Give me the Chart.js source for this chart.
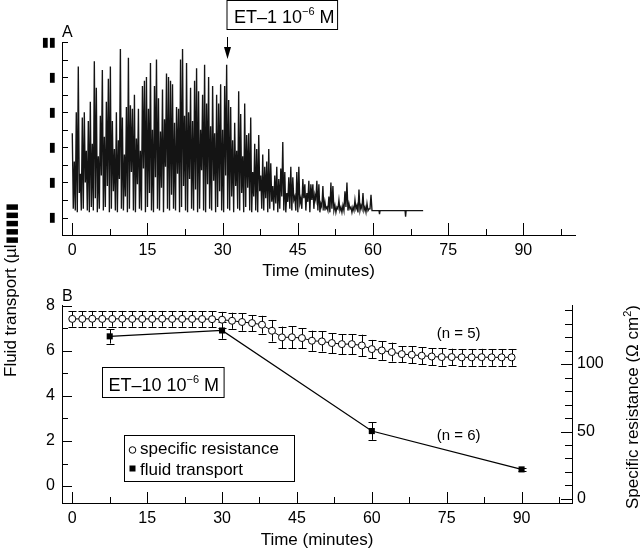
<!DOCTYPE html>
<html><head><meta charset="utf-8">
<script src="https://cdn.jsdelivr.net/npm/chart.js@4.4.1/dist/chart.umd.min.js"></script>
<style>
html,body{margin:0;padding:0;background:#fff;}
#wrap{position:relative;width:640px;height:550px;overflow:hidden;background:#fff;}
#ca{position:absolute;left:0;top:0;}
#cb{position:absolute;left:0;top:280px;}
#ytitle{position:absolute;left:2px;top:377px;transform-origin:0 0;transform:rotate(-90deg);font-size:17px;font-family:"Liberation Sans","DejaVu Sans",Arial,sans-serif;line-height:17px;white-space:nowrap;color:#000;}
#ytitle span{font-size:15px;}
</style></head><body>
<div id="wrap">
<canvas id="ca" width="640" height="280"></canvas>
<canvas id="cb" width="640" height="270"></canvas>
<div id="ytitle">Fluid transport (µl<span>▮▮▮▮▮</span></div>
</div>
<script>
// ---------------- Panel A data (fluid transport trace) ----------------
const spikeStep = 0.4; // minutes between successive spikes
const spikePeaks = [
  4.8, 3.2, 6.0, 8.6, 2.5, 5.7, 6.0, 3.8, 5.5, 6.6,
  4.2, 8.9, 7.4, 3.5, 5.8, 8.4, 4.6, 6.6, 7.9, 8.6,
  5.5, 3.9, 6.0, 4.4, 9.6, 5.7, 3.6, 6.3, 9.1, 6.4,
  6.2, 7.0, 4.5, 6.2, 3.8, 7.5, 7.8, 8.0, 6.2, 8.8,
  5.0, 7.5, 9.0, 6.8, 4.9, 7.3, 5.6, 8.2, 8.0, 7.8,
  7.6, 5.4, 6.3, 6.2, 9.0, 9.6, 5.8, 8.8, 6.0, 7.4,
  5.5, 7.8, 8.5, 7.2, 5.0, 7.0, 8.7, 6.5, 8.0, 5.2,
  7.5, 4.8, 7.0, 6.5, 7.6, 5.0, 7.5, 8.7, 6.7, 6.3,
  4.4, 5.4, 3.8, 7.2, 5.9, 3.5, 6.5, 4.7, 4.8, 5.7,
  2.6, 4.2, 3.9, 4.7, 2.4, 3.6, 2.9, 3.2, 3.9, 3.1,
  1.8, 2.4, 2.9, 2.2, 2.8, 4.3, 2.6, 1.4, 2.3, 2.9,
  2.3, 1.2, 2.6, 2.9, 1.1, 2.2, 1.9, 1.4, 2.1, 1.9,
  1.9, 1.3, 2.1, 1.9, 0.8, 1.8, 0.9, 0.6, 1.2, 2.0,
  1.8, 0.7, 0.6, 1.0, 0.6, 0.7, 1.5, 2.0, 0.8, 0.6,
  0.6, 1.0, 0.7, 1.6, 0.7, 1.4, 0.6, 0.8, 0.5, 1.3
];
const spikeTroughs = [
  0.5, 0.4, 0.3, 1.4, 0.4, 0.5, 2.0, 0.4, 0.3, 0.6,
  0.4, 1.1, 0.3, 0.5, 2.4, 0.4, 0.6, 1.8, 0.3, 0.5,
  1.5, 0.4, 0.3, 2.2, 0.5, 0.4, 1.2, 0.3, 0.5, 2.6,
  0.4, 0.3, 1.9, 0.5, 0.4, 2.8, 0.3, 0.6, 1.4, 0.4,
  0.3, 2.3, 0.5, 0.4, 1.7, 0.3, 2.9, 0.5, 0.4, 1.3,
  0.5, 0.4, 2.5, 0.3, 0.6, 1.8, 0.4, 0.3, 2.2, 0.5,
  0.4, 1.6, 0.3, 0.5, 2.7, 0.4, 0.3, 1.9, 0.5, 0.4,
  2.1, 0.3, 0.6, 1.5, 0.4, 0.3, 2.4, 0.5, 0.4, 1.2,
  0.3, 1.8, 0.5, 0.4, 1.4, 0.3, 0.6, 1.7, 0.4, 0.3,
  1.2, 0.4, 0.3, 1.5, 0.5, 0.4, 1.1, 0.3, 0.5, 0.9,
  0.4, 0.8, 0.3, 0.5, 1.2, 0.4, 0.3, 0.9, 0.5, 0.4,
  1.0, 0.4, 0.3, 0.8, 0.5, 1.1, 0.4, 0.9, 0.3, 1.0,
  0.5, 1.0, 0.4, 0.3, 0.6, 0.4, 0.5, 0.4, 0.3, 0.5,
  0.4, 0.3, 0.5, 0.4, 0.3, 0.4, 0.6, 0.4, 0.5, 0.3,
  0.4, 0.5, 0.3, 0.4, 0.5, 0.4, 0.3, 0.4, 0.5, 0.4
];
const tailTimes  = [60.4, 61.2, 61.3, 61.4, 66.4, 66.5, 66.6, 70.0];
const tailValues = [0.4, 0.4, 0.2, 0.4, 0.4, 0.05, 0.4, 0.4];
const aYTickValues = [0, 2, 4, 6, 8, 10];
const aYTickLabels = ['▮', '▮', '▮', '▮', '▮', '▮▮'];
const xTickLabels = [0, 15, 30, 45, 60, 75, 90];
const et1Time = 30.8;

// ---------------- Panel B data ----------------
const resTimes = [0,2,4,6,8,10,12,14,16,18,20,22,24,26,28,30,32,34,36,38,40,42,44,46,48,50,52,54,56,58,60,62,64,66,68,70,72,74,76,78,80,82,84,86,88];
const resValues = [133.5,133.5,133.6,133.5,133.5,133.6,133.5,133.5,133.5,133.6,133.5,133.5,133.5,133.4,133.3,
  132.9,132.1,131.2,130.4,129.2,124.7,119.8,119.9,119.3,117.3,116.8,115.6,114.8,114.8,113.8,
  111.1,110.1,108.9,107.4,106.9,106.2,105.6,105.2,105.2,105.0,105.0,105.1,105.0,105.0,105.0];
const resErrors = [5.8,5.8,5.8,5.8,5.8,5.8,5.8,5.8,5.8,5.8,5.8,5.8,5.8,5.8,5.8,
  5.8,6.0,6.5,6.0,6.6,8.0,8.0,8.0,7.4,7.5,7.5,7.4,7.4,7.4,8.0,
  6.8,7.0,7.0,6.0,6.3,6.3,6.3,6.4,6.2,6.2,6.2,6.2,6.2,6.2,6.2];
const fluidTimes  = [7.5, 30, 60, 90];
const fluidValues = [6.64, 6.9, 2.44, 0.74];
const fluidErrors = [0.32, 0.37, 0.39, 0.07];
const bLeftTickLabels  = [0, 2, 4, 6, 8];
const bRightTickLabels = [0, 50, 100];

// ---------------- helpers ----------------
const FONT = '"Liberation Sans", "DejaVu Sans", Arial, sans-serif';

function tracePoints() {
  const pts = [];
  for (let i = 0; i < spikePeaks.length; i++) {
    pts.push({x: i * spikeStep, y: spikePeaks[i]});
    pts.push({x: i * spikeStep + spikeStep / 2, y: spikeTroughs[i]});
  }
  for (let i = 0; i < tailTimes.length; i++) pts.push({x: tailTimes[i], y: tailValues[i]});
  return pts;
}

function makeTicks(cfg) {
  return {
    id: 'inTicks',
    afterDraw(chart) {
      const ctx = chart.ctx;
      ctx.save();
      ctx.strokeStyle = '#000';
      ctx.lineWidth = 1;
      for (const id in cfg) {
        const c = cfg[id], s = chart.scales[id];
        s.ticks.forEach(t => {
          const len = c.major(t.value) ? c.majorLen : c.minorLen;
          const p = Math.round(s.getPixelForValue(t.value)) + 0.5;
          ctx.beginPath();
          if (s.position === 'bottom') { ctx.moveTo(p, s.top); ctx.lineTo(p, s.top - len); }
          else if (s.position === 'left') { ctx.moveTo(s.right, p); ctx.lineTo(s.right + len, p); }
          else { ctx.moveTo(s.left, p); ctx.lineTo(s.left - len, p); }
          ctx.stroke();
        });
      }
      ctx.restore();
    }
  };
}

function partsWidth(ctx, parts, size) {
  let w = 0;
  for (const [t, sup] of parts) {
    ctx.font = (sup ? Math.round(size * 0.62) : size) + 'px ' + FONT;
    w += ctx.measureText(t).width;
  }
  return w;
}
function drawParts(ctx, x, y, parts, size) {
  let cx = x;
  ctx.textAlign = 'left';
  ctx.textBaseline = 'alphabetic';
  for (const [t, sup] of parts) {
    ctx.font = (sup ? Math.round(size * 0.62) : size) + 'px ' + FONT;
    ctx.fillText(t, cx, sup ? y - size * 0.42 : y);
    cx += ctx.measureText(t).width;
  }
  return cx - x;
}

// ---------------- Panel A ----------------
const annotA = {
  id: 'annotA',
  afterDraw(chart) {
    const {ctx, chartArea: ca, scales: {x}} = chart;
    ctx.save();
    ctx.fillStyle = '#000'; ctx.strokeStyle = '#000'; ctx.lineWidth = 1;
    ctx.font = '16px ' + FONT; ctx.textAlign = 'left'; ctx.textBaseline = 'alphabetic';
    ctx.fillText('A', ca.left, ca.top - 5);
    const ax = Math.round(x.getPixelForValue(et1Time)) + 0.5;
    ctx.beginPath(); ctx.moveTo(ax, ca.top - 5); ctx.lineTo(ax, ca.top + 8); ctx.stroke();
    ctx.beginPath(); ctx.moveTo(ax - 3.5, ca.top + 5); ctx.lineTo(ax + 3.5, ca.top + 5); ctx.lineTo(ax, ca.top + 17); ctx.closePath(); ctx.fill();
    const parts = [['ET–1 10', 0], ['−6', 1], [' M', 0]];
    const w = partsWidth(ctx, parts, 18);
    ctx.strokeRect(ax - 0.5, 0.5, w + 10, ca.top - 13);
    drawParts(ctx, ax + 6.5, ca.top - 19.3, parts, 18);
    ctx.restore();
  }
};

const ticksA = makeTicks({
  x: {major: v => v % 15 === 0, majorLen: 12, minorLen: 6},
  y: {major: v => v % 2 === 0, majorLen: 6, minorLen: 6}
});

new Chart(document.getElementById('ca'), {
  type: 'line',
  data: {datasets: [{data: tracePoints(), borderColor: '#141414', borderWidth: 1.35, pointRadius: 0, tension: 0, fill: false}]},
  options: {
    responsive: false, animation: false, events: [],
    layout: {padding: {top: 42, right: 65, left: 0, bottom: 0}},
    plugins: {legend: {display: false}, tooltip: {enabled: false}},
    scales: {
      x: {
        type: 'linear', position: 'bottom', min: -2.05, max: 100.3,
        grid: {display: false, drawTicks: false},
        border: {display: true, color: '#000', width: 1},
        ticks: {stepSize: 7.5, includeBounds: false, autoSkip: false, maxRotation: 0, padding: 6, color: '#000',
          font: {size: 16, family: FONT},
          callback: v => xTickLabels.includes(v) ? String(v) : ''},
        title: {display: true, text: 'Time (minutes)', color: '#000', font: {size: 17, family: FONT}, padding: {top: 0, bottom: -2}},
        afterFit: s => { s.height = 45; }
      },
      y: {
        type: 'linear', position: 'left', min: -0.99, max: 10,
        grid: {display: false, drawTicks: false},
        border: {display: true, color: '#000', width: 1},
        ticks: {stepSize: 1, includeBounds: false, autoSkip: false, padding: 6, color: '#000',
          font: {size: 13, family: FONT},
          callback: v => { const i = aYTickValues.indexOf(v); return i >= 0 ? aYTickLabels[i] : ''; }},
        afterFit: s => { s.width = 62; }
      }
    }
  },
  plugins: [ticksA, annotA]
});

// ---------------- Panel B ----------------
const errorBars = {
  id: 'errorBars',
  beforeDatasetsDraw(chart) {
    const {ctx, scales: {x, y, y2}} = chart;
    ctx.save();
    ctx.strokeStyle = '#000'; ctx.lineWidth = 1;
    const bar = (t, v, e, sc, half) => {
      const px = Math.round(x.getPixelForValue(t)) + 0.5;
      const top = sc.getPixelForValue(v + e), bot = sc.getPixelForValue(v - e);
      ctx.beginPath();
      ctx.moveTo(px, top); ctx.lineTo(px, bot);
      ctx.moveTo(px - half, Math.round(top) + 0.5); ctx.lineTo(px + half, Math.round(top) + 0.5);
      ctx.moveTo(px - half, Math.round(bot) + 0.5); ctx.lineTo(px + half, Math.round(bot) + 0.5);
      ctx.stroke();
    };
    resTimes.forEach((t, i) => bar(t, resValues[i], resErrors[i], y2, 4));
    fluidTimes.forEach((t, i) => bar(t, fluidValues[i], fluidErrors[i], y, 4));
    ctx.restore();
  }
};

const annotB = {
  id: 'annotB',
  afterDraw(chart) {
    const {ctx, chartArea: ca, scales: {x, y}} = chart;
    ctx.save();
    ctx.fillStyle = '#000'; ctx.strokeStyle = '#000'; ctx.lineWidth = 1;
    ctx.font = '16px ' + FONT; ctx.textAlign = 'left'; ctx.textBaseline = 'alphabetic';
    ctx.fillText('B', ca.left, ca.top - 4);

    // ET-10 box
    const parts = [['ET–10 10', 0], ['−6', 1], [' M', 0]];
    const w = partsWidth(ctx, parts, 18);
    const bx = Math.round(x.getPixelForValue(5.95)) + 0.5, by = Math.round(y.getPixelForValue(5.29)) + 0.5;
    ctx.strokeRect(bx, by, w + 11, 30);
    drawParts(ctx, bx + 6, by + 23, parts, 18);

    // legend box
    const lx = Math.round(x.getPixelForValue(10.36)) + 0.5, ly = Math.round(y.getPixelForValue(2.27)) + 0.5;
    ctx.strokeRect(lx, ly, 170, 46);
    ctx.beginPath(); ctx.arc(lx + 8, ly + 14.5, 3.3, 0, Math.PI * 2);
    ctx.fillStyle = '#fff'; ctx.fill(); ctx.stroke();
    ctx.fillStyle = '#000';
    ctx.fillRect(lx + 5, ly + 30, 6, 6);
    ctx.font = '17px ' + FONT;
    ctx.fillText('specific resistance', lx + 15.5, ly + 18.5);
    ctx.fillText('fluid transport', lx + 15.5, ly + 39.5);

    // n labels
    ctx.font = '15px ' + FONT; ctx.textAlign = 'center'; ctx.textBaseline = 'middle';
    ctx.fillText('(n = 5)', x.getPixelForValue(77.4), y.getPixelForValue(6.76));
    ctx.fillText('(n = 6)', x.getPixelForValue(77.4), y.getPixelForValue(2.24));

    // right axis title (reads bottom to top)
    const tparts = [['Specific resistance (Ω cm', 0], ['2', 1], [')', 0]];
    const tw = partsWidth(ctx, tparts, 17);
    ctx.translate(638, (ca.top + ca.bottom) / 2 + 3);
    ctx.rotate(-Math.PI / 2);
    drawParts(ctx, -tw / 2, 0, tparts, 17);
    ctx.restore();
  }
};

const ticksB = makeTicks({
  x: {major: v => v % 15 === 0, majorLen: 11, minorLen: 6},
  y: {major: v => v % 2 === 0, majorLen: 10, minorLen: 6},
  y2: {major: v => v % 50 === 0, majorLen: 11, minorLen: 7}
});

new Chart(document.getElementById('cb'), {
  type: 'line',
  data: {datasets: [
    {label: 'specific resistance', data: resTimes.map((t, i) => ({x: t, y: resValues[i]})), yAxisID: 'y2',
      borderColor: '#000', borderWidth: 1, pointRadius: 3.5, pointBackgroundColor: '#fff', pointBorderColor: '#000',
      pointBorderWidth: 1, tension: 0, fill: false},
    {label: 'fluid transport', data: fluidTimes.map((t, i) => ({x: t, y: fluidValues[i]})), yAxisID: 'y',
      borderColor: '#000', borderWidth: 1.2, pointStyle: 'rect', pointRadius: 4.3, pointBackgroundColor: '#000',
      pointBorderColor: '#000', pointBorderWidth: 0, tension: 0, fill: false}
  ]},
  options: {
    responsive: false, animation: false, events: [],
    layout: {padding: {top: 25, right: 0, left: 0, bottom: 0}},
    plugins: {legend: {display: false}, tooltip: {enabled: false}},
    scales: {
      x: {
        type: 'linear', position: 'bottom', min: -2.06, max: 100.1,
        grid: {display: false, drawTicks: false},
        border: {display: true, color: '#000', width: 1},
        ticks: {stepSize: 7.5, includeBounds: false, autoSkip: false, maxRotation: 0, padding: 6, color: '#000',
          font: {size: 16, family: FONT},
          callback: v => xTickLabels.includes(v) ? String(v) : ''},
        title: {display: true, text: 'Time (minutes)', color: '#000', font: {size: 17, family: FONT}, padding: {top: 0, bottom: -1}},
        afterFit: s => { s.height = 47; }
      },
      y: {
        type: 'linear', position: 'left', min: -0.75, max: 8.03,
        grid: {display: false, drawTicks: false},
        border: {display: true, color: '#000', width: 1},
        ticks: {stepSize: 1, includeBounds: false, autoSkip: false, padding: 7, color: '#000',
          font: {size: 16, family: FONT},
          callback: v => bLeftTickLabels.includes(v) ? String(v) : ''},
        afterFit: s => { s.width = 62; }
      },
      y2: {
        type: 'linear', position: 'right', min: -3, max: 143.8,
        grid: {display: false, drawTicks: false},
        border: {display: true, color: '#000', width: 1},
        ticks: {stepSize: 10, includeBounds: false, autoSkip: false, padding: 5, color: '#000',
          font: {size: 16, family: FONT},
          callback: v => bRightTickLabels.includes(v) ? String(v) : ''},
        afterFit: s => { s.width = 68; }
      }
    }
  },
  plugins: [errorBars, ticksB, annotB]
});
</script>
</body></html>
